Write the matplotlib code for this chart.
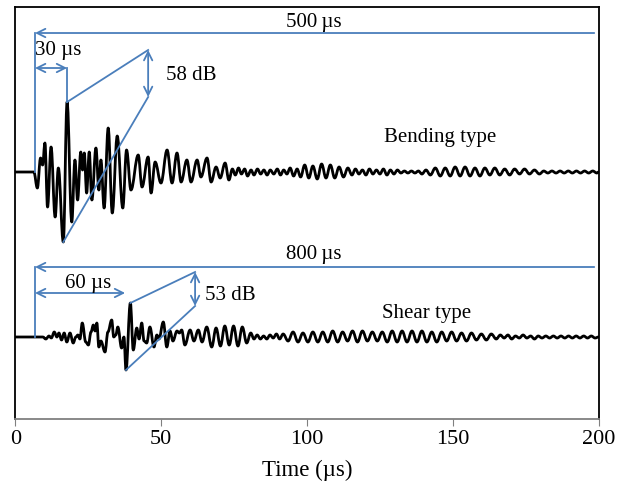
import matplotlib.pyplot as plt
from matplotlib.path import Path
from matplotlib.patches import PathPatch

plt.rcParams['font.family'] = ['Liberation Serif', 'DejaVu Serif']

BLUE = '#4a7ebb'

# bending type waveform: extrema (time in us, amplitude in arbitrary units)
bend_t = [0, 6.3, 7.5, 8.6, 9.3, 10.1, 11.0, 12.2, 13.6, 14.7, 16.4, 17.7, 19.3, 20.4,
          21.3, 22.4, 23.0, 23.6, 24.4, 25.3, 26.2, 27.6, 28.6, 29.3, 30.4, 31.8, 33.2,
          34.9, 36.8, 38.1, 39.6, 42.1, 43.4, 45.5, 46.5, 47.9, 49.9, 52.0, 53.7, 55.4,
          56.8, 58.8, 60.2, 62.3, 63.6, 65.7, 67.1, 68.8, 70.2, 71.9, 73.2, 74.4, 75.4,
          76.5, 77.5, 78.6, 79.6, 80.8, 81.8, 83.0, 84.1, 85.2, 86.3, 87.4, 88.6, 89.8,
          90.9, 92.0, 93.1, 94.2, 95.4, 96.6, 97.8, 99.2, 100.6, 102.0, 103.5, 105.0,
          106.5, 108.0, 109.5, 111.0, 112.5, 114.0, 115.4, 116.6, 117.8, 119.0, 120.2,
          121.4, 122.6, 123.8, 125.0, 126.2, 127.4, 128.6, 129.8, 131.0, 132.2, 133.4,
          134.6, 135.8, 137.0, 138.2, 139.4, 140.8, 142.3, 144.0, 145.7, 147.4, 149.1,
          150.8, 152.5, 154.2, 155.9, 157.6, 159.3, 161.0, 162.7, 164.4, 166.1, 167.8,
          169.5, 171.2, 172.9, 174.6, 176.3, 178.0, 179.7, 181.2, 182.6, 184.0, 185.4,
          186.8, 188.2, 189.6, 191.0, 192.4, 193.8, 195.2, 196.6, 198.0, 199.4, 200]
bend_a = [0, 0, -16, 14, 7, 29, -35, 25, -45, 4, -70, 70, -50, 12,
          -28, 20, 2, 19, -21, 20, -28, 24, -18, 12, -36, 44, -41,
          36, -36, 22, -18, 17, -15, 15, -21, 10, -11, 22, -11, 19,
          -10, 12, -10, 12, -5, 14, -10, 5, -6, 9, -8, 3, -3,
          4, -2, 3, -4, 2, -3, 3, -2, 2, -3, 2, -2, 3,
          -3, 2, -2, 4, -4, 3, -5, 7, -6, 6, -7, 8,
          -6, 7, -6, 5, -5, 4, -3, 3, -2, 2, -3,
          3, -2, 2, -2, 3, -3, 2, -2, 2, -1, 1,
          -1, 1, -1, 1, -2, 2, -3, 4, -4, 4, -4,
          5, -4, 5, -4, 4, -4, 4, -3, 4, -3, 3,
          -3, 3, -2, 3, -2, 2, -2, 1, -1, 1, -1,
          1, -1, 1, -1, 1, -1, 1, -1, 1, -1, 0]

# shear type waveform
shear_t = [0, 9.4, 10.4, 11.5, 12.3, 13.3, 14.2, 14.9, 15.8, 16.7, 17.6, 18.7, 19.8,
           20.7, 21.4, 22.1, 22.9, 24.1, 25.0, 25.9, 26.7, 27.3, 27.9, 28.6, 29.3, 30.7,
           31.7, 33.0, 33.7, 34.4, 35.1, 36.4, 37.2, 37.9, 39.4, 40.4, 41.6, 42.4, 43.3,
           44.1, 45.0, 46.1, 47.5, 48.5, 49.2, 50.7, 51.9, 53.0, 54.0, 55.4, 56.2, 57.0,
           58.1, 59.9, 61.2, 62.7, 64.0, 65.6, 67.3, 68.8, 70.3, 71.8, 73.3, 74.8, 76.3,
           77.8, 79.3, 80.7, 81.8, 82.9, 84.0, 85.1, 86.2, 87.3, 88.4, 89.5, 90.6, 91.8,
           93.5, 95.2, 96.9, 98.6, 100.3, 102.0, 103.7, 105.4, 107.1, 108.8, 110.5, 112.2,
           113.9, 115.6, 117.3, 119.0, 120.7, 122.4, 124.1, 125.8, 127.5, 129.2, 130.9,
           132.6, 134.3, 136.0, 137.7, 139.4, 141.1, 142.8, 144.5, 146.2, 147.9, 149.6,
           151.3, 153.0, 154.7, 156.4, 158.1, 159.8, 161.5, 163.2, 164.9, 166.3, 167.6,
           168.9, 170.2, 171.5, 172.8, 174.1, 175.4, 176.7, 178.0, 179.3, 180.6, 181.9,
           183.2, 184.5, 185.8, 187.1, 188.4, 189.7, 191.0, 192.3, 193.6, 194.9, 196.2,
           197.5, 198.8, 200]
shear_a = [0, 0, -2, 1, -1, 5, 0, 4, -3, 4, -5, 4, -6,
           0, 2, -2, 14, -5, -8, 5, 12, 6, 14, -10, -4, -15,
           5, 17, 0, 2, 10, -11, 0, -33, 34, -13, 9, -2, 14,
           -4, -6, 10, -10, 2, -2, 15, -10, 6, -4, 6, 4, 7,
           -8, 7, -4, 7, -5, 10, -10, 9, -9, 11, -8, 11, -9,
           10, -6, 4, -2, 2, -2, 1, -2, 2, -1, 3, -2, 3,
           -4, 5, -5, 4, -5, 5, -5, 5, -5, 6, -5, 5,
           -4, 6, -5, 6, -4, 5, -4, 5, -5, 6, -5,
           6, -5, 6, -5, 6, -5, 5, -5, 5, -4, 5,
           -4, 4, -4, 4, -3, 3, -3, 3, -2, 2, -1,
           2, -2, 1, -1, 2, -1, 1, -2, 1, -1, 1,
           -1, 1, -1, 1, -1, 1, -1, 1, -1, 1, -1,
           1, -1, 0]

bend_base = 247
shear_base = 82
t_start = 6.7
t_end = 198.5

fig = plt.figure(figsize=(6.27, 4.90), dpi=100)
ax = fig.add_axes([0.0247, 0.1449, 0.930, 0.8408])


def wave(ts, amps, base):
    # smooth curve through the extrema, flat tangent at each one
    verts = [(ts[0], base + amps[0])]
    codes = [Path.MOVETO]
    for i in range(1, len(ts)):
        t0, y0 = ts[i - 1], base + amps[i - 1]
        t1, y1 = ts[i], base + amps[i]
        k = (t1 - t0) * 0.38
        verts += [(t0 + k, y0), (t1 - k, y1), (t1, y1)]
        codes += [Path.CURVE4] * 3
    ax.add_patch(PathPatch(Path(verts, codes), fill=False, edgecolor='black',
                           lw=2.0, joinstyle='round', capstyle='round'))


wave(bend_t, bend_a, bend_base)
wave(shear_t, shear_a, shear_base)

ax.set_xlim(0, 200)
ax.set_ylim(0, 412)
ax.set_xticks([0, 50, 100, 150, 200])
ax.set_yticks([])
ax.tick_params(axis='x', labelsize=16, direction='out', length=5, color='#808080', pad=3)
for s in ['left', 'right', 'top']:
    ax.spines[s].set_linewidth(1.3)
ax.spines['bottom'].set_color('#808080')
ax.spines['bottom'].set_linewidth(1.3)
ax.set_xlabel('Time (\u00b5s)', fontsize=16.5, labelpad=8)


def arrow(x0, y0, x1, y1, style):
    ax.annotate('', xy=(x1, y1), xytext=(x0, y0),
                arrowprops=dict(arrowstyle=style, color=BLUE, lw=1.3,
                                shrinkA=0, shrinkB=0, mutation_scale=15))


def line(x0, y0, x1, y1):
    ax.plot([x0, x1], [y0, y1], color=BLUE, lw=1.3)


FS = 15

# bending annotations
bi_max = bend_a.index(max(bend_a))
bi_min = bend_a.index(min(bend_a))
bp = (bend_t[bi_max], bend_base + bend_a[bi_max])
bm = (bend_t[bi_min], bend_base + bend_a[bi_min])
arrow(t_end, 386, t_start, 386, '->')
line(t_start, 386, t_start, bend_base)
ax.text(102.4, 397, '500\u2009\u00b5s', ha='center', va='center', fontsize=FS)
arrow(t_start, 351, bp[0], 351, '<->')
line(bp[0], 351, bp[0], bp[1])
ax.text(14.6, 369, '30 \u00b5s', ha='center', va='center', fontsize=FS)
line(bp[0], bp[1], 45.5, 369)
arrow(45.5, 369, 45.5, 322, '<->')
line(45.5, 322, bm[0], bm[1])
ax.text(60.2, 344, '58 dB', ha='center', va='center', fontsize=FS)
ax.text(145.6, 282, 'Bending type', ha='center', va='center', fontsize=FS)

# shear annotations
si_max = shear_a.index(max(shear_a))
si_min = shear_a.index(min(shear_a))
sp = (shear_t[si_max], shear_base + shear_a[si_max])
sm = (shear_t[si_min], shear_base + shear_a[si_min])
arrow(t_end, 152, t_start, 152, '->')
line(t_start, 152, t_start, shear_base)
ax.text(102.4, 165, '800\u2009\u00b5s', ha='center', va='center', fontsize=FS)
arrow(t_start, 126, 37.6, 126, '<->')
ax.text(24.9, 136, '60 \u00b5s', ha='center', va='center', fontsize=FS)
line(sp[0], sp[1], 61.6, 147)
arrow(61.6, 147, 61.6, 113, '<->')
line(61.6, 113, sm[0], sm[1])
ax.text(73.6, 124, '53 dB', ha='center', va='center', fontsize=FS)
ax.text(141, 106, 'Shear type', ha='center', va='center', fontsize=FS)

fig.savefig('out.png', dpi=100)
